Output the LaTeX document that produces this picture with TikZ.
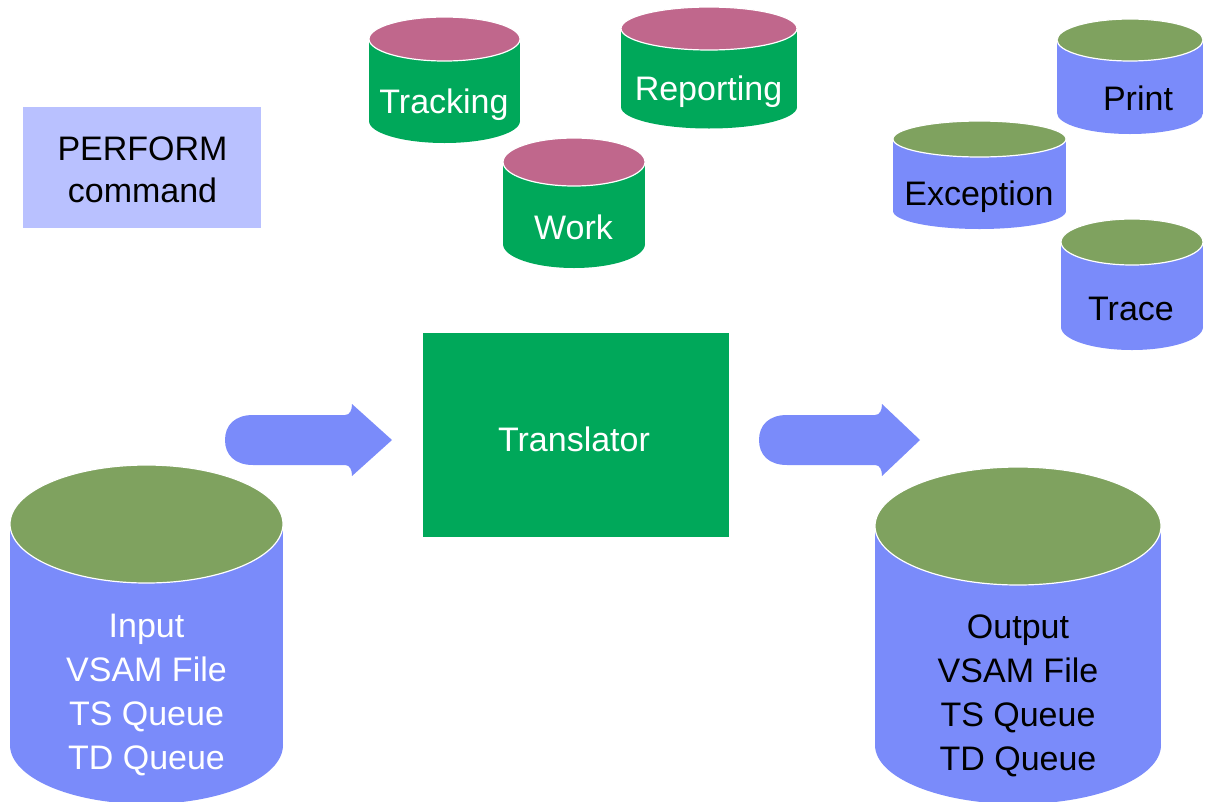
\documentclass[tikz,border=0pt]{standalone}
\usepackage{fontspec}
\setmainfont{Liberation Sans}
\definecolor{cmdbox}{HTML}{B9C1FF}
\definecolor{filebody}{HTML}{7A8BFA}
\definecolor{filetop}{HTML}{7FA25F}
\definecolor{dbbody}{HTML}{00A85A}
\definecolor{dbtop}{HTML}{C0678C}
\definecolor{flow}{HTML}{7A8BFA}

% storage drum: centre x, top y, bottom y, x radius, y radius, body colour, lid colour
\newcommand\drumcyl[7]{%
  \fill[#6] ({#1-#4},#2) rectangle ({#1+#4},#3);
  \fill[#6] (#1,#3) ellipse[x radius=#4, y radius=#5];
  \filldraw[fill=#7, draw=white, line width=1.2pt] (#1,#2) ellipse[x radius=#4, y radius=#5];
}
% block arrow: left end x, head base x, tip x
\newcommand\blockarr[3]{%
  \fill[flow] ({#1+28},415) -- ({#2-7},415)
    .. controls ({#2-2},415) and (#2,410) .. (#2,404)
    -- (#3,440) -- (#2,476)
    .. controls (#2,470) and ({#2-2},465) .. ({#2-7},465)
    -- ({#1+28},465)
    .. controls ({#1+10},465) and (#1,455) .. (#1,440)
    .. controls (#1,425) and ({#1+10},415) .. ({#1+28},415) -- cycle;
}

\tikzset{
  lbl/.style={font=\fontsize{34}{44}\selectfont, inner sep=0pt, anchor=base},
  lblw/.style={lbl, text=white},
  lblk/.style={lbl, text=black},
  multi/.style={font=\fontsize{34}{44}\selectfont, inner sep=0pt, align=center, anchor=north},
}

\begin{document}
\begin{tikzpicture}[x=1pt, y=-1pt]
\useasboundingbox (0,0) rectangle (1205,801);

% command box
\fill[cmdbox] (23,107) rectangle (261,228);
\node[lblk] (perform) at (142.5,160) {PERFORM};
\node[lblk] (command) at (142.5,202) {command};

% work data stores
\drumcyl{444.5}{39}{121}{75.5}{22}{dbbody}{dbtop}
\node[lblw] (tracking) at (444,113) {Tracking};
\drumcyl{709}{28.5}{107}{88}{21.5}{dbbody}{dbtop}
\node[lblw] (reporting) at (708.5,100) {Reporting};
\drumcyl{574}{162}{244}{71}{24}{dbbody}{dbtop}
\node[lblw] (work) at (573.5,239) {Work};

% log files
\drumcyl{1130}{40}{113}{73}{21}{filebody}{filetop}
\node[lblk] (print) at (1138,110) {Print};
\drumcyl{979.5}{139}{211}{86.5}{18}{filebody}{filetop}
\node[lblk] (exception) at (979,205) {Exception};
\drumcyl{1132}{242}{327}{71}{23}{filebody}{filetop}
\node[lblk] (trace) at (1131,320) {Trace};

% translator
\fill[dbbody] (423,333) rectangle (729,537);
\node[lblw] (translator) at (574,451) {Translator};

% input and output
\drumcyl{146.5}{524}{745}{136.5}{59}{filebody}{filetop}
\node[multi, text=white] (input) at (146.5,613.7) {Input\\VSAM File\\TS Queue\\TD Queue};
\drumcyl{1018}{526}{745}{143}{59}{filebody}{filetop}
\node[multi, text=black] (output) at (1018,615) {Output\\VSAM File\\TS Queue\\TD Queue};

% flow arrows
\blockarr{225}{352}{392}
\blockarr{759}{882}{920}
\end{tikzpicture}
\end{document}
